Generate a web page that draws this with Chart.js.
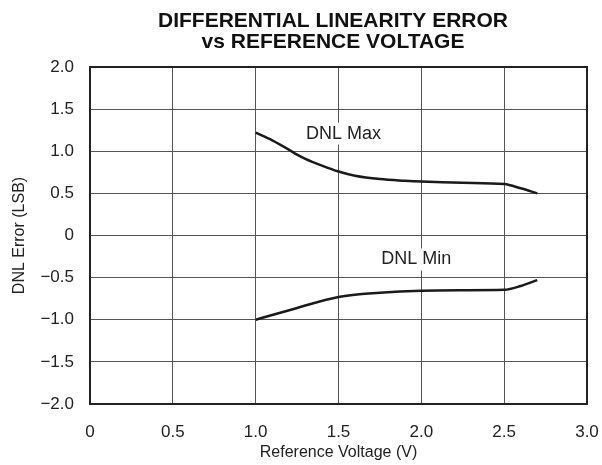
<!DOCTYPE html>
<html>
<head>
<meta charset="utf-8">
<script src="https://cdn.jsdelivr.net/npm/chart.js@4"></script>
<style>
  html, body { margin: 0; padding: 0; background: #fff; }
  #wrap { width: 602px; height: 465px; }
</style>
</head>
<body>
<div id="wrap"><canvas id="plot"></canvas></div>
<script>
const titleLines = ['DIFFERENTIAL LINEARITY ERROR', 'vs REFERENCE VOLTAGE']
const xTitle = 'Reference Voltage (V)'
const yTitle = 'DNL Error (LSB)'

// reference voltage (V)
const vrefMax = [1.0, 1.1, 1.2, 1.25, 1.3, 1.4, 1.5, 1.6, 1.75, 1.9, 2.0, 2.25, 2.5, 2.6, 2.7]
const dnlMax = [1.22, 1.13, 1.02, 0.96, 0.91, 0.83, 0.76, 0.71, 0.67, 0.65, 0.64, 0.625, 0.61, 0.56, 0.50]
const vrefMin = [1.0, 1.25, 1.5, 1.75, 2.0, 2.25, 2.5, 2.6, 2.7]
const dnlMin = [-1.0, -0.86, -0.73, -0.68, -0.655, -0.65, -0.645, -0.60, -0.53]

const labels = [
    { text: 'DNL Max', x: 1.53, y: 1.21 },
    { text: 'DNL Min', x: 1.97, y: -0.285 }
]

const textColor = '#222'
const font = 'Liberation Sans, Arial, sans-serif'

function pts(xs, ys) {
    return xs.map((x, i) => ({ x: x, y: ys[i] }))
}

function fmt(v) {
    if (Math.abs(v) < 1e-9) return '0'
    const s = Math.abs(v).toFixed(1)
    return v < 0 ? '\u2212' + s : s
}

const decor = {
    id: 'decor',
    afterDatasetsDraw(chart) {
        const ctx = chart.ctx
        const xs = chart.scales.x
        const ys = chart.scales.y
        ctx.save()
        ctx.font = '18px ' + font
        ctx.textAlign = 'center'
        ctx.textBaseline = 'middle'
        labels.forEach(l => {
            const px = xs.getPixelForValue(l.x)
            const py = ys.getPixelForValue(l.y)
            const w = ctx.measureText(l.text).width
            ctx.fillStyle = '#fff'
            ctx.fillRect(px - w / 2 - 3, py - 11, w + 6, 22)
            ctx.fillStyle = textColor
            ctx.fillText(l.text, px, py)
        })
        // plot frame
        const a = chart.chartArea
        ctx.strokeStyle = '#222'
        ctx.lineWidth = 2
        ctx.strokeRect(a.left, a.top, a.right - a.left, a.bottom - a.top)
        // title
        ctx.font = 'bold 21px ' + font
        ctx.fillStyle = '#111'
        ctx.fillText(titleLines[0], 333, 21)
        ctx.fillText(titleLines[1], 333, 42)
        ctx.restore()
    }
}

const config = {
    type: 'line',
    data: {
        datasets: [{
            data: pts(vrefMax, dnlMax),
            borderColor: '#1a1a1a',
            borderWidth: 2.5,
            pointRadius: 0,
            cubicInterpolationMode: 'monotone'
        }, {
            data: pts(vrefMin, dnlMin),
            borderColor: '#1a1a1a',
            borderWidth: 2.5,
            pointRadius: 0,
            cubicInterpolationMode: 'monotone'
        }]
    },
    plugins: [decor],
    options: {
        responsive: false,
        animation: false,
        layout: {
            padding: { top: 67, right: 0, left: 0, bottom: 0 }
        },
        plugins: {
            legend: { display: false },
            tooltip: { enabled: false }
        },
        scales: {
            x: {
                type: 'linear',
                min: 0,
                max: 3,
                border: { display: false },
                grid: { color: '#555', lineWidth: 1, drawTicks: false },
                ticks: {
                    stepSize: 0.5,
                    padding: 18,
                    color: textColor,
                    font: { family: font, size: 17 },
                    callback: v => fmt(v)
                },
                title: {
                    display: true,
                    text: xTitle,
                    color: textColor,
                    font: { family: font, size: 16 },
                    padding: { top: 0, bottom: 3 }
                },
                afterFit: s => {
                    s.height = 61
                    s.paddingRight = 15
                    s.paddingLeft = 0
                }
            },
            y: {
                min: -2,
                max: 2,
                border: { display: false },
                grid: { color: '#555', lineWidth: 1, drawTicks: false },
                ticks: {
                    stepSize: 0.5,
                    padding: 16,
                    color: textColor,
                    font: { family: font, size: 17 },
                    callback: v => fmt(v)
                },
                title: {
                    display: true,
                    text: yTitle,
                    color: textColor,
                    font: { family: font, size: 16 },
                    padding: { top: 10, bottom: 0 }
                },
                afterFit: s => { s.width = 90 }
            }
        }
    }
}

const plot = document.getElementById('plot')
plot.width = 602
plot.height = 465
const chart = new Chart(plot, config)
</script>
</body>
</html>
